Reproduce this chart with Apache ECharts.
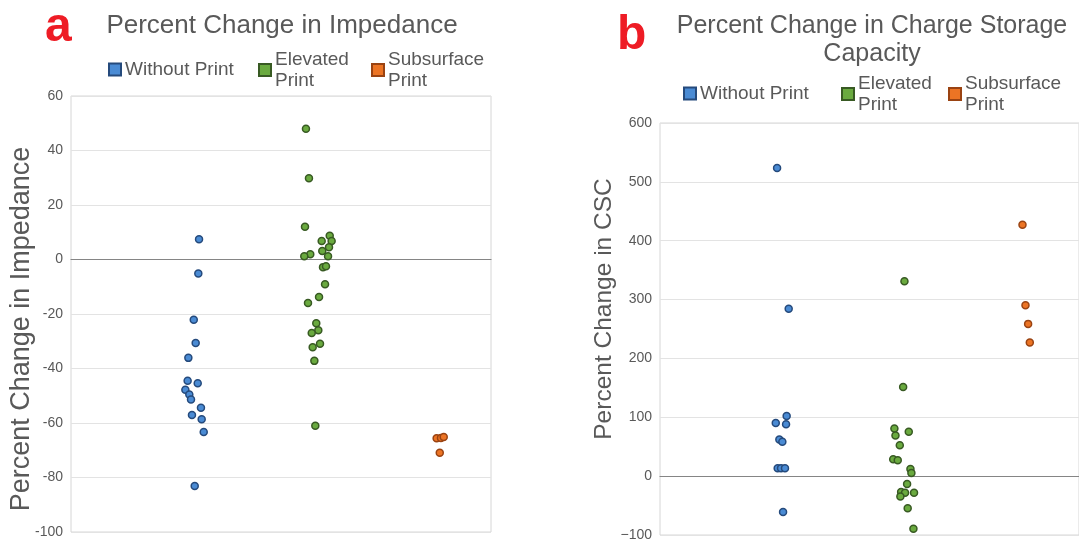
<!DOCTYPE html>
<html>
<head>
<meta charset="utf-8">
<script src="https://cdn.jsdelivr.net/npm/echarts@6/dist/echarts.min.js"></script>
<style>
html,body{margin:0;padding:0;background:#fff;}
#chart{width:1079px;height:542px;}
</style>
</head>
<body>
<div id="chart"></div>
<script>
// ---- Data (x = jittered category position, 1/2/3; y = percent change) ----
const seriesNames = ['Without Print', 'Elevated Print', 'Subsurface Print'];

// Panel a: Percent Change in Impedance
const impWithoutX = [1.067,1.061,1.023,1.039,0.978,0.972,1.056,0.953,0.986,1.000,1.083,1.008,1.089,1.106,1.031];
const impWithoutY = [7.4,-5.1,-22.1,-30.6,-36.1,-44.5,-45.4,-47.8,-49.5,-51.4,-54.4,-57.1,-58.6,-63.3,-83.1];
const impElevatedX = [1.958,1.983,1.950,2.089,2.156,2.172,2.150,2.094,1.994,1.944,2.142,2.100,2.125,2.117,2.067,1.975,2.044,2.061,2.006,2.075,2.014,2.028,2.036];
const impElevatedY = [48.0,29.8,12.0,6.8,8.7,6.8,4.5,3.1,1.9,1.2,1.2,-2.8,-2.5,-9.1,-13.8,-16.0,-23.4,-26.0,-27.0,-30.9,-32.2,-37.2,-61.0];
const impSubsurfaceX = [3.047,3.083,3.106,3.073];
const impSubsurfaceY = [-65.6,-65.5,-65.1,-70.9];

// Panel b: Percent Change in Charge Storage Capacity
const cscWithoutX = [0.978,1.075,1.058,0.967,1.053,0.997,1.022,0.983,1.011,1.044,1.028];
const cscWithoutY = [523.7,284.4,102.1,90.3,88.0,62.4,58.6,13.4,13.4,13.4,-60.9];
const cscElevatedX = [2.042,2.031,1.958,2.078,1.967,2.003,1.948,1.986,2.092,2.100,2.064,2.014,2.047,2.122,2.008,2.069,2.117];
const cscElevatedY = [331.3,151.6,80.8,75.3,69.1,52.4,28.9,26.8,12.2,5.5,-13.4,-26.8,-28.4,-28.4,-34.6,-54.7,-89.3];
const cscSubsurfaceX = [3.028,3.053,3.075,3.089];
const cscSubsurfaceY = [427.1,290.4,258.7,226.9];

// Axis ticks
const impTicks = {min: -100, max: 60, interval: 20};
const cscTicks = {min: -100, max: 600, interval: 100};

// ---- Styles ----
const FONT = '"Liberation Sans", Arial, sans-serif';
const TEXT = '#595959';
const fills = ['#4a8bd4', '#6aaa3f', '#ec7424'];
const borders = ['#254a7c', '#385a23', '#9a4312'];

const zip = (xs, ys) => xs.map((x, i) => [x, ys[i]]);

function scatter(name, idx, xs, ys, axisIdx) {
  return {
    type: 'scatter', name: name,
    xAxisIndex: axisIdx, yAxisIndex: axisIdx,
    data: zip(xs, ys),
    symbol: 'circle', symbolSize: 7,
    itemStyle: {color: fills[idx], borderColor: borders[idx], borderWidth: 1.5, opacity: 1},
    emphasis: {disabled: true},
    z: 3
  };
}

function legend(name, left, top, twoLine) {
  return {
    data: [name], left: left, top: top, padding: 0,
    orient: 'horizontal', icon: 'rect', itemWidth: 12, itemHeight: 12, itemGap: 0,
    selectedMode: false,
    itemStyle: {borderWidth: 2},
    textStyle: {fontFamily: FONT, fontSize: 19, color: TEXT, lineHeight: 21, padding: [0,0,0,-1]},
    formatter: twoLine ? (n => n.replace(' ', '\n')) : (n => n)
  };
}

function yAxisCfg(gridIdx, t, neg) {
  return {
    type: 'value', gridIndex: gridIdx, min: t.min, max: t.max, interval: t.interval,
    axisLine: {show: false}, axisTick: {show: false},
    axisLabel: {fontFamily: FONT, fontSize: 14, color: TEXT, margin: 8,
      formatter: v => (v < 0 ? neg + Math.abs(v) : String(v))},
    splitLine: {show: true, lineStyle: {color: '#e3e3e3', width: 1}}
  };
}

function xAxisCfg(gridIdx) {
  return {
    type: 'value', gridIndex: gridIdx, min: 0, max: 3.5,
    axisLine: {show: true, onZero: true, lineStyle: {color: '#858585', width: 1.2}},
    axisTick: {show: false}, axisLabel: {show: false}, splitLine: {show: false}
  };
}

const option = {
  animation: false,
  backgroundColor: '#ffffff',
  grid: [
    {left: 71, top: 96, width: 420, height: 436, show: true, borderColor: '#d6d6d6', borderWidth: 1, backgroundColor: 'transparent'},
    {left: 660, top: 123, width: 420, height: 418, show: true, borderColor: '#d6d6d6', borderWidth: 1, backgroundColor: 'transparent'}
  ],
  xAxis: [xAxisCfg(0), xAxisCfg(1)],
  yAxis: [yAxisCfg(0, impTicks, '-'), yAxisCfg(1, cscTicks, '\u2212')],
  legend: [
    legend(seriesNames[0], 108, 59, false),
    legend(seriesNames[1], 258, 49, true),
    legend(seriesNames[2], 371, 49, true),
    legend(seriesNames[0], 683, 83, false),
    legend(seriesNames[1], 841, 73, true),
    legend(seriesNames[2], 948, 73, true)
  ],
  graphic: [
    {type: 'text', x: 45, y: 28, z: 10, style: {text: 'a', font: 'bold 48px ' + FONT, fill: '#ee1c25', textAlign: 'left', textVerticalAlign: 'middle'}},
    {type: 'text', x: 617, y: 36, z: 10, style: {text: 'b', font: 'bold 48px ' + FONT, fill: '#ee1c25', textAlign: 'left', textVerticalAlign: 'middle'}},
    {type: 'text', x: 282, y: 26, z: 10, style: {text: 'Percent Change in Impedance', font: '26px ' + FONT, fill: TEXT, textAlign: 'center', textVerticalAlign: 'middle'}},
    {type: 'text', x: 872, y: 40, z: 10, style: {text: 'Percent Change in Charge Storage\nCapacity', font: '25px ' + FONT, lineHeight: 28, fill: TEXT, textAlign: 'center', textVerticalAlign: 'middle'}},
    {type: 'text', x: 22, y: 329, rotation: Math.PI / 2, z: 10, style: {text: 'Percent Change in Impedance', font: '27px ' + FONT, fill: TEXT, textAlign: 'center', textVerticalAlign: 'middle'}},
    {type: 'text', x: 604, y: 309, rotation: Math.PI / 2, z: 10, style: {text: 'Percent Change in CSC', font: '24.5px ' + FONT, fill: TEXT, textAlign: 'center', textVerticalAlign: 'middle'}}
  ],
  series: [
    scatter(seriesNames[0], 0, impWithoutX, impWithoutY, 0),
    scatter(seriesNames[1], 1, impElevatedX, impElevatedY, 0),
    scatter(seriesNames[2], 2, impSubsurfaceX, impSubsurfaceY, 0),
    scatter(seriesNames[0], 0, cscWithoutX, cscWithoutY, 1),
    scatter(seriesNames[1], 1, cscElevatedX, cscElevatedY, 1),
    scatter(seriesNames[2], 2, cscSubsurfaceX, cscSubsurfaceY, 1)
  ]
};

const chart = echarts.init(document.getElementById('chart'), null, {renderer: 'canvas'});
chart.setOption(option);
</script>
</body>
</html>
